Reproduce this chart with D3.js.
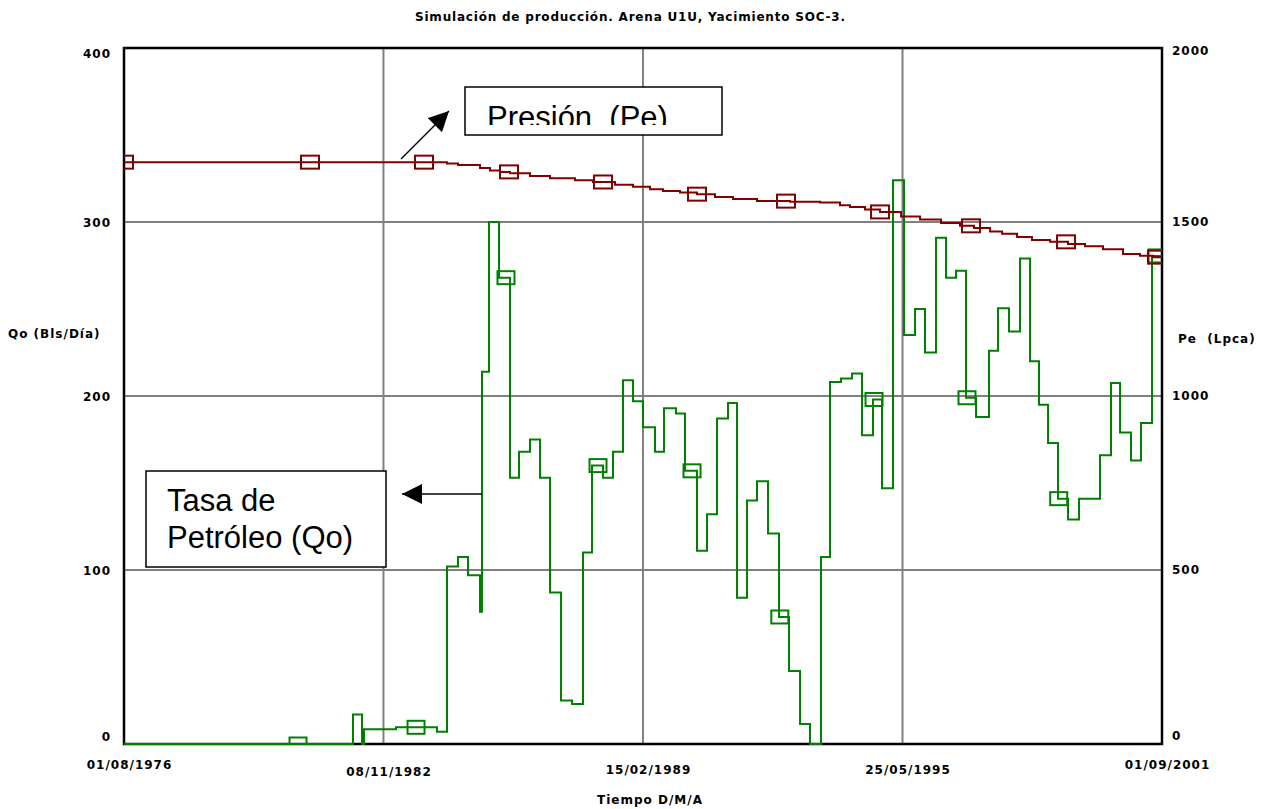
<!DOCTYPE html>
<html>
<head>
<meta charset="utf-8">
<script src="https://cdn.jsdelivr.net/npm/d3@7"></script>
<style>
body { margin: 0; background: #fff; }
#chart text { font-family: "DejaVu Sans", Verdana, sans-serif; font-weight: bold; font-size: 12px; fill: #000; }
#chart .note text { font-family: "Liberation Sans", Arial, sans-serif; font-weight: normal; font-size: 31px; }
</style>
</head>
<body>
<svg id="chart" width="1265" height="809"></svg>
<script>
// time in decimal years
var dateTicks = [1976.582, 1982.852, 1989.123, 1995.395, 2001.666];
var dateLabels = ["01/08/1976", "08/11/1982", "15/02/1989", "25/05/1995", "01/09/2001"];
var qoTicks = [0, 100, 200, 300, 400];
var peTicks = [0, 500, 1000, 1500, 2000];

// Qo (Bls/Dia), step series: value holds from its year to the next one
var qoYears = [1976.582, 1982.116, 1982.334, 1982.382, 1983.155, 1984.146, 1984.388, 1984.654,
               1984.895, 1985.185, 1985.234, 1985.403, 1985.644, 1985.910, 1986.128, 1986.393,
               1986.635, 1986.877, 1987.143, 1987.408, 1987.674, 1987.892, 1988.158, 1988.399,
               1988.641, 1988.883, 1989.124, 1989.414, 1989.632, 1989.922, 1990.139, 1990.429,
               1990.671, 1990.913, 1991.178, 1991.396, 1991.638, 1991.879, 1992.145, 1992.411,
               1992.653, 1992.919, 1993.160, 1993.426, 1993.643, 1993.909, 1994.175, 1994.417,
               1994.682, 1994.900, 1995.166, 1995.432, 1995.698, 1995.939, 1996.205, 1996.447,
               1996.688, 1996.930, 1997.172, 1997.486, 1997.703, 1997.969, 1998.235, 1998.477,
               1998.694, 1998.912, 1999.153, 1999.395, 1999.661, 2000.168, 2000.434, 2000.652,
               2000.917, 2001.159, 2001.425];
var qoValues = [0, 17, 0, 8.5, 9.6, 7, 102, 107.5,
                97, 76, 214, 300, 268, 153, 168, 175,
                153, 87, 25, 23, 110, 160, 153, 168,
                209, 197, 182, 168, 193, 190, 157, 111,
                132, 187, 196, 84, 140, 151, 121, 73,
                42, 11.5, 0, 107.5, 208, 210, 213, 177.5,
                198, 147, 324, 235, 250, 225, 291, 268,
                272, 199, 188, 226, 250.5, 237, 279, 220,
                195, 173, 141, 129, 141, 166, 207.5, 179,
                163, 184.5, 280.5];
var qoMarkerYears = [1980.787, 1983.639, 1985.813, 1988.037, 1990.309, 1992.43, 1994.707,
                     1996.954, 1999.17, 2001.546];

// Pe (Lpca)
var peYears = [1976.582, 1984.388, 1984.654, 1985.185, 1985.427, 1985.669, 1985.910, 1986.393,
               1986.877, 1987.481, 1987.916, 1988.448, 1988.883, 1989.294, 1989.608, 1990.019,
               1990.429, 1990.864, 1991.299, 1991.879, 1992.677, 1993.402, 1993.885, 1994.127,
               1994.489, 1994.852, 1995.360, 1995.819, 1996.326, 1996.785, 1997.124, 1997.511,
               1997.801, 1998.164, 1998.524, 1998.960, 1999.395, 1999.806, 2000.241, 2000.724,
               2001.135, 2001.449];
var peValues = [1672, 1668, 1664, 1655, 1648, 1644, 1640, 1632,
                1626, 1620, 1615, 1607, 1601, 1594, 1589, 1585,
                1580, 1572, 1566, 1560, 1558, 1556, 1548, 1543,
                1536, 1529, 1516, 1507, 1497, 1489, 1483, 1473,
                1466, 1457, 1448, 1443, 1437, 1430, 1422, 1408,
                1403, 1399];
var peMarkerYears = [1976.582, 1981.077, 1983.832, 1985.886, 1988.158, 1990.429, 1992.580,
                     1994.852, 1997.051, 1999.347, 2001.546];

const qoColor = "#008000",
    peColor = "#800000",
    gridColor = "#808080";

function stepValue(years, values, t) {
    var i = d3.bisectRight(years, t) - 1;
    return values[Math.max(0, i)];
}

function drawChart() {
    var svg = d3.select("#chart"),
    margin = {
        top: 48,
        left: 124,
        right: 103,
        bottom: 65
    },
    width = 1265 - margin.left - margin.right,
    height = 809 - margin.top - margin.bottom;

    var xScale = d3.scaleLinear().domain([dateTicks[0], dateTicks[4]]).range([0, width]),
        qoScale = d3.scaleLinear().domain([0, 400]).range([height, 0]),
        peScale = d3.scaleLinear().domain([0, 2000]).range([height, 0]);

    svg.append("text")
        .attr("x", 630)
        .attr("y", 21)
        .attr("text-anchor", "middle")
        .attr("textLength", 430)
        .text("Simulación de producción. Arena U1U, Yacimiento SOC-3.");

    var g = svg.append("g")
        .attr("transform", "translate(" + margin.left + "," + margin.top + ")");

    // grid
    g.selectAll(".hgrid")
        .data(qoTicks.slice(1, 4))
        .enter().append("line")
        .attr("x1", 0).attr("x2", width)
        .attr("y1", function(d) { return qoScale(d); })
        .attr("y2", function(d) { return qoScale(d); })
        .attr("stroke", gridColor)
        .attr("stroke-width", 2);

    g.selectAll(".vgrid")
        .data(dateTicks.slice(1, 4))
        .enter().append("line")
        .attr("y1", 0).attr("y2", height)
        .attr("x1", function(d) { return xScale(d); })
        .attr("x2", function(d) { return xScale(d); })
        .attr("stroke", gridColor)
        .attr("stroke-width", 2);

    // frame
    g.append("rect")
        .attr("width", width)
        .attr("height", height)
        .attr("fill", "none")
        .attr("stroke", "#000")
        .attr("stroke-width", 2.5);

    // axes
    var leftAxis = g.append("g")
        .call(d3.axisLeft(qoScale).tickValues(qoTicks).tickSize(0).tickPadding(13)
            .tickFormat(d3.format("d")));
    leftAxis.selectAll("text").attr("y", function(d) {
        return d == 0 ? -7 : (d == 400 ? 6 : 1);
    });

    var rightAxis = g.append("g")
        .attr("transform", "translate(" + width + ",0)")
        .call(d3.axisRight(peScale).tickValues(peTicks).tickSize(0).tickPadding(10)
            .tickFormat(d3.format("d")));
    rightAxis.selectAll("text").attr("y", function(d) {
        return d == 0 ? -8 : (d == 2000 ? 3 : 0);
    });

    var labelDrop = [25, 32, 30, 30, 25];
    var bottomAxis = g.append("g")
        .attr("transform", "translate(0," + height + ")")
        .call(d3.axisBottom(xScale).tickValues(dateTicks).tickSize(0)
            .tickFormat(function(d, i) { return dateLabels[i]; }));
    bottomAxis.selectAll("text")
        .attr("dy", 0)
        .attr("dx", 5)
        .attr("y", function(d, i) { return labelDrop[i]; });

    g.selectAll(".domain").remove();
    g.selectAll(".tick text").style("letter-spacing", "1px");

    svg.append("text")
        .attr("x", 8).attr("y", 338)
        .style("letter-spacing", "1px")
        .text("Qo (Bls/Día)");
    svg.append("text")
        .attr("x", 1178).attr("y", 343)
        .style("white-space", "pre")
        .style("letter-spacing", "1px")
        .text("Pe  (Lpca)");
    svg.append("text")
        .attr("x", 650).attr("y", 804)
        .attr("text-anchor", "middle")
        .style("letter-spacing", "1px")
        .text("Tiempo D/M/A");

    // series
    svg.append("clipPath").attr("id", "plotClip")
        .append("rect")
        .attr("x", 0).attr("y", -2)
        .attr("width", width).attr("height", height + 3);

    var plot = g.append("g").attr("clip-path", "url(#plotClip)");

    var qoData = qoYears.map(function(t, i) { return {t: t, v: qoValues[i]}; });
    qoData.push({t: dateTicks[4], v: qoValues[qoValues.length - 1]});
    var peData = peYears.map(function(t, i) { return {t: t, v: peValues[i]}; });
    peData.push({t: dateTicks[4], v: peValues[peValues.length - 1]});

    var qoLine = d3.line()
        .x(function(d) { return xScale(d.t); })
        .y(function(d) { return qoScale(d.v); })
        .curve(d3.curveStepAfter);
    var peLine = d3.line()
        .x(function(d) { return xScale(d.t); })
        .y(function(d) { return peScale(d.v); })
        .curve(d3.curveStepAfter);

    plot.append("path")
        .datum(qoData)
        .attr("d", qoLine)
        .attr("fill", "none")
        .attr("stroke", qoColor)
        .attr("stroke-width", 2);

    plot.selectAll(".qo-marker")
        .data(qoMarkerYears)
        .enter().append("rect")
        .attr("class", "qo-marker")
        .attr("x", function(d) { return xScale(d) - 8.5; })
        .attr("y", function(d) { return qoScale(stepValue(qoYears, qoValues, d)) - 6.5; })
        .attr("width", 17)
        .attr("height", 13)
        .attr("fill", "none")
        .attr("stroke", qoColor)
        .attr("stroke-width", 2);

    plot.append("path")
        .datum(peData)
        .attr("d", peLine)
        .attr("fill", "none")
        .attr("stroke", peColor)
        .attr("stroke-width", 2);

    plot.selectAll(".pe-marker")
        .data(peMarkerYears)
        .enter().append("rect")
        .attr("class", "pe-marker")
        .attr("x", function(d) { return xScale(d) - 9; })
        .attr("y", function(d) { return peScale(stepValue(peYears, peValues, d)) - 6.5; })
        .attr("width", 18)
        .attr("height", 13)
        .attr("fill", "none")
        .attr("stroke", peColor)
        .attr("stroke-width", 2);

    // notes
    var defs = svg.append("defs");
    defs.append("marker")
        .attr("id", "arrowHead")
        .attr("viewBox", "0 0 10 10")
        .attr("refX", 10).attr("refY", 5)
        .attr("markerUnits", "userSpaceOnUse")
        .attr("markerWidth", 21).attr("markerHeight", 20)
        .attr("orient", "auto")
        .append("path")
        .attr("d", "M0,0L10,5L0,10Z")
        .attr("fill", "#000");
    defs.append("clipPath").attr("id", "noteClip")
        .append("rect")
        .attr("x", 465).attr("y", 87).attr("width", 257).attr("height", 38);

    var note1 = svg.append("g").attr("class", "note");
    note1.append("rect")
        .attr("x", 465).attr("y", 87).attr("width", 257).attr("height", 48)
        .attr("fill", "#fff").attr("stroke", "#000").attr("stroke-width", 1.5);
    note1.append("text")
        .attr("x", 487).attr("y", 128)
        .attr("clip-path", "url(#noteClip)")
        .style("white-space", "pre")
        .text("Presión  (Pe)");
    note1.append("line")
        .attr("x1", 401).attr("y1", 159).attr("x2", 449).attr("y2", 111)
        .attr("stroke", "#000").attr("stroke-width", 1.5)
        .attr("marker-end", "url(#arrowHead)");

    var note2 = svg.append("g").attr("class", "note");
    note2.append("rect")
        .attr("x", 146).attr("y", 471).attr("width", 240).attr("height", 96)
        .attr("fill", "#fff").attr("stroke", "#000").attr("stroke-width", 1.5);
    note2.append("text")
        .attr("x", 167).attr("y", 511)
        .text("Tasa de");
    note2.append("text")
        .attr("x", 167).attr("y", 548)
        .text("Petróleo (Qo)");
    note2.append("line")
        .attr("x1", 482).attr("y1", 494).attr("x2", 402).attr("y2", 494)
        .attr("stroke", "#000").attr("stroke-width", 1.5)
        .attr("marker-end", "url(#arrowHead)");
}

drawChart();
</script>
</body>
</html>
